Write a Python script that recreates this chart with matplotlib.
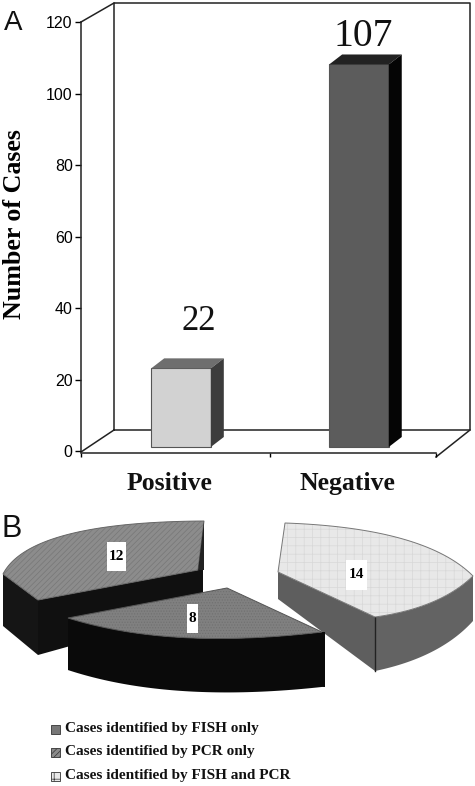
import numpy as np
import matplotlib
matplotlib.use("Agg")
import matplotlib.pyplot as plt
from matplotlib.patches import Polygon, Rectangle
from matplotlib.transforms import Affine2D, IdentityTransform

# ---- data ----
categories = ["Positive", "Negative"]
case_counts = [22, 107]
y_ticks = [0, 20, 40, 60, 80, 100, 120]
pie_values = [12, 14, 8]
legend_labels = ["Cases identified by FISH only",
                 "Cases identified by PCR only",
                 "Cases identified by FISH and PCR"]

W, H = 475, 786
SERIF = "Liberation Serif"
SANS = "Liberation Sans"
plt.rcParams["hatch.linewidth"] = 0.5
fig = plt.figure(figsize=(W / 100, H / 100), dpi=100, facecolor="white")

# overlay in pixel coordinates for decoration (walls, the distorted 3-D pie)
px = fig.add_axes([0, 0, 1, 1], zorder=0)
px.set_xlim(0, W); px.set_ylim(H, 0); px.axis("off")

# ---- panel A ----
L, R, T, B = 81, 436, 22, 451
ax = fig.add_axes([L / W, 1 - B / H, (R - L) / W, (B - T) / H], zorder=1)
ax.patch.set_alpha(0)
ax.set_ylim(0, 120)
ax.set_xlim(-0.562, 1.433)
for s in ("top", "right"):
    ax.spines[s].set_visible(False)
for s in ("left", "bottom"):
    ax.spines[s].set_linewidth(1.1)
    ax.spines[s].set_color("#222222")
ax.spines["bottom"].set_position(("outward", 1.5))
ax.set_yticks(y_ticks)
ax.tick_params(axis="y", labelsize=11.5, length=4, width=1, pad=2)
for lab in ax.get_yticklabels():
    lab.set_family(SANS)
ax.set_xticks([-0.562, 0.5, 1.433])
ax.set_xticklabels([])
ax.tick_params(axis="x", length=3, width=1)
ax.set_ylabel("Number of Cases", family=SERIF, weight="bold", fontsize=18.7)
ax.yaxis.set_label_coords(-0.155, 0.53)

# 3-D walls of the chart box
wall = dict(color="#222222", lw=1.1)
px.plot([114, 114, 470, 470, 114], [430, 3, 3, 430, 430], **wall)
px.plot([81, 114], [22, 3], **wall)
px.plot([81, 114], [452, 430], **wall)
px.plot([436, 470], [457, 430], **wall)

bar_w = 0.335
front_cols = ["#d2d2d2", "#5c5c5c"]
top_cols = ["#6e6e6e", "#222222"]
side_cols = ["#3c3c3c", "#050505"]
label_dx = [18, 4]
label_dy = [24.4, 9.6]
label_fs = [25, 28.5]
LIFT, DX, DY = 4, 13, 10
lift = ax.transData + Affine2D().translate(0, LIFT)
xpos = np.arange(len(categories))
bars = ax.bar(xpos, case_counts, bar_w, color=front_cols, edgecolor="#555555",
              linewidth=0.8, transform=lift, zorder=3)
for i, (x, v) in enumerate(zip(xpos, case_counts)):
    (x0, y0), (x1, y1) = lift.transform([(x - bar_w / 2, 0), (x + bar_w / 2, v)])
    ax.add_patch(Polygon([(x0, y1), (x1, y1), (x1 + DX, y1 + DY), (x0 + DX, y1 + DY)],
                         closed=True, transform=IdentityTransform(), fc=top_cols[i], ec="none", zorder=3))
    ax.add_patch(Polygon([(x1, y0), (x1, y1), (x1 + DX, y1 + DY), (x1 + DX, y0 + DY)],
                         closed=True, transform=IdentityTransform(), fc=side_cols[i], ec="none", zorder=3))
    ax.annotate(str(v), (x, v), xytext=(label_dx[i] * 0.72, label_dy[i]),
                textcoords="offset points", ha="center", va="bottom",
                family=SERIF, fontsize=label_fs[i], color="#111111", zorder=4)
    ax.annotate(categories[i], (x, 0), xytext=(-12 * 0.72, -23.5), textcoords="offset points",
                ha="center", va="center", family=SERIF, weight="bold", fontsize=18.5,
                color="#111111", annotation_clip=False)

px.text(4, 23, "A", family=SANS, fontsize=20, va="center", ha="left", color="#111111")
px.text(2, 529, "B", family=SANS, fontsize=22, va="center", ha="left", color="#111111")

# ---- panel B : the pie is warped in the source, so each slice keeps its own outline ----
def curve(a, c, b, n=60):
    a, c, b = (np.asarray(p, float) for p in (a, c, b))
    t = np.linspace(0, 1, n)[:, None]
    return (1 - t) ** 2 * a + 2 * t * (1 - t) * c + t ** 2 * b

def extrude(points, d0, d1):
    pts = np.asarray(points, float)
    d = np.linspace(d0, d1, len(pts))
    low = pts + np.column_stack([np.zeros(len(pts)), d])
    return np.vstack([pts, low[::-1]])

def face(points, fc, hatch_col, hatch, edge, z):
    px.add_patch(Polygon(points, fc=fc, ec=hatch_col, lw=0, hatch=hatch, zorder=z))
    px.add_patch(Polygon(points, fc="none", ec=edge, lw=0.7, zorder=z + 0.01))

# slice 12
apex12 = (38, 600)
arc12 = curve((3, 574), (30, 522), (204, 521))
px.add_patch(Polygon(extrude([(3, 574), apex12], 52, 55), fc="#151515", ec="none", zorder=1))
px.add_patch(Polygon(extrude([apex12, (203, 569)], 55, 40), fc="#101010", ec="none", zorder=1))
face(np.vstack([[apex12], arc12, [(198, 570)]]), "#8c8c8c", "#777777", "//////", "#666666", 1.1)
px.add_patch(Polygon([(204, 521), (198, 570), (204, 570)], fc="#222222", ec="none", zorder=1.2))

# slice 14
apex14 = (375, 617)
arc14 = curve((285, 523), (425, 528), (473, 576))
rim14 = curve(apex14, (440, 608), (473, 576))
px.add_patch(Polygon(extrude([(278, 572), apex14], 27, 54), fc="#5e5e5e", ec="none", zorder=1))
px.add_patch(Polygon(extrude(rim14, 54, 45), fc="#636363", ec="none", zorder=1))
px.plot([375, 375], [617, 671], color="#222222", lw=1, zorder=1.05)
face(np.vstack([[apex14], [(278, 572)], arc14, rim14[::-1]]), "#e8e8e8", "#d8d8d8", "++", "#777777", 1.1)

# slice 8
apex8 = (227, 588)
arc8 = curve((68, 618), (170, 650), (322, 632))
px.add_patch(Polygon(extrude(np.vstack([[(68, 618)], arc8, [(325, 632)]]), 52, 55),
                     fc="#0a0a0a", ec="none", zorder=1.3))
face(np.vstack([[apex8], arc8]), "#808080", "#707070", "......", "#555555", 1.4)

label_pos = [(116, 556), (356, 575), (192, 618)]
label_box = [(19, 29), (21, 30), (11, 29)]
for v, (x, y), (bw, bh) in zip(pie_values, label_pos, label_box):
    px.add_patch(Rectangle((x - bw / 2, y - bh / 2), bw, bh, fc="white", ec="none", zorder=2))
    px.text(x, y, str(v), family=SERIF, weight="bold", fontsize=11, ha="center", va="center",
            zorder=2.1)

# ---- legend ----
leg_y = [729, 752, 776]
leg_fc = ["#777777", "#8b8b8b", "#e9e9e9"]
leg_hatch = [None, "//////", "++"]
for lab, y, fc, h in zip(legend_labels, leg_y, leg_fc, leg_hatch):
    px.add_patch(Rectangle((51, y - 4.5), 9, 9, fc=fc, ec="#333333", lw=0.6, hatch=h))
    px.text(65, y - 0.5, lab, family=SERIF, weight="bold", fontsize=11, va="center",
            ha="left", color="#111111")

fig.savefig("out.png", dpi=100)
